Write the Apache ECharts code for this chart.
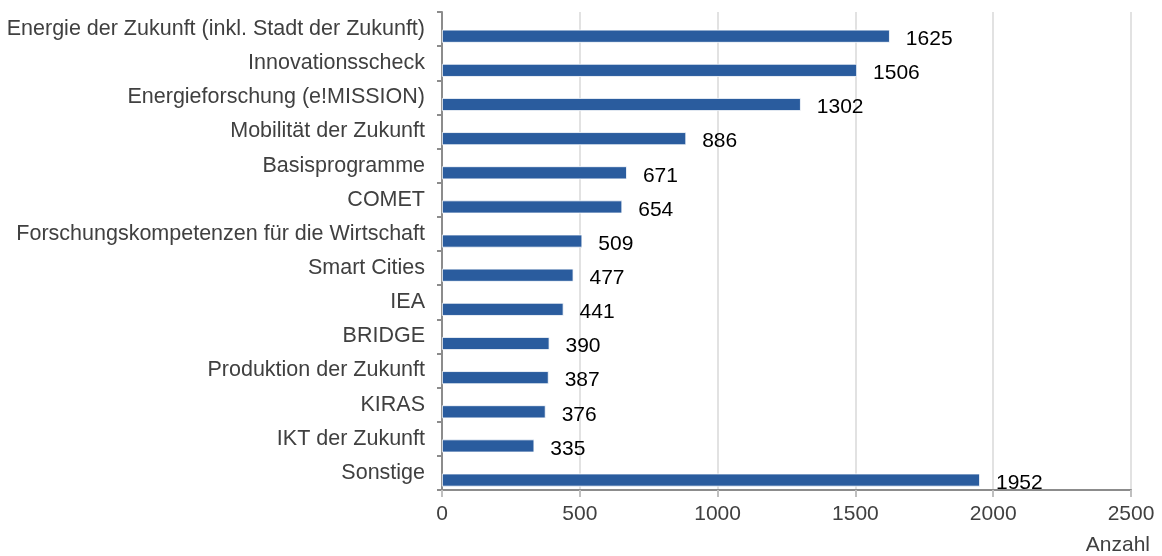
<!DOCTYPE html>
<html><head><meta charset="utf-8">
<script src="https://cdn.jsdelivr.net/npm/echarts@6/dist/echarts.min.js"></script>
<style>html,body{margin:0;padding:0;background:#fff}#c{width:1162px;height:556px}</style>
</head><body><div id="c"></div>
<script>
const categories = ["Energie der Zukunft (inkl. Stadt der Zukunft)","Innovationsscheck","Energieforschung (e!MISSION)","Mobilität der Zukunft","Basisprogramme","COMET","Forschungskompetenzen für die Wirtschaft","Smart Cities","IEA","BRIDGE","Produktion der Zukunft","KIRAS","IKT der Zukunft","Sonstige"];
const values = [1625,1506,1302,886,671,654,509,477,441,390,387,376,335,1952];
const xTicks = [0,500,1000,1500,2000,2500];
const axisName = "Anzahl";

const FS = 21;
const chart = echarts.init(document.getElementById('c'), null, {renderer:'canvas'});
chart.setOption({
  animation:false,
  backgroundColor:'#fff',
  grid:{left:442,right:31,top:12,bottom:64,containLabel:false},
  xAxis:{type:'value',min:xTicks[0],max:xTicks[xTicks.length-1],interval:500,
    name:axisName,nameLocation:'end',nameGap:19,
    nameTextStyle:{fontFamily:'Liberation Sans',fontSize:FS,color:'#404040',align:'right',verticalAlign:'top',padding:[45,0,0,0]},
    axisLine:{show:true,lineStyle:{color:'#8c8c8c',width:2}},
    axisTick:{show:true,length:7,lineStyle:{color:'#bfbfbf',width:2}},
    axisLabel:{fontFamily:'Liberation Sans',fontSize:FS,color:'#404040',margin:14,formatter:v=>String(v)},
    splitLine:{show:true,lineStyle:{color:'#d9d9d9',width:1.5}}},
  yAxis:{type:'category',data:categories,inverse:true,
    axisLine:{show:true,lineStyle:{color:'#8c8c8c',width:2}},
    axisTick:{show:true,length:5,lineStyle:{color:'#8c8c8c',width:2}},
    axisLabel:{fontFamily:'Liberation Sans',fontSize:21.5,color:'#404040',margin:17},
    splitLine:{show:false}},
  series:[
    {type:'bar',name:'pad',data:categories.map(()=>null),barWidth:13,barGap:'10%',silent:true,itemStyle:{color:'transparent'}},
    {type:'bar',name:'Anzahl',data:values,barWidth:13,barGap:'10%',
     itemStyle:{color:'#2a5c9e',borderColor:'#ffffff',borderWidth:0.8},
     label:{show:true,position:'right',distance:16,offset:[0,3],fontFamily:'Liberation Sans',fontSize:FS,color:'#000'}}
  ]
});
</script></body></html>
